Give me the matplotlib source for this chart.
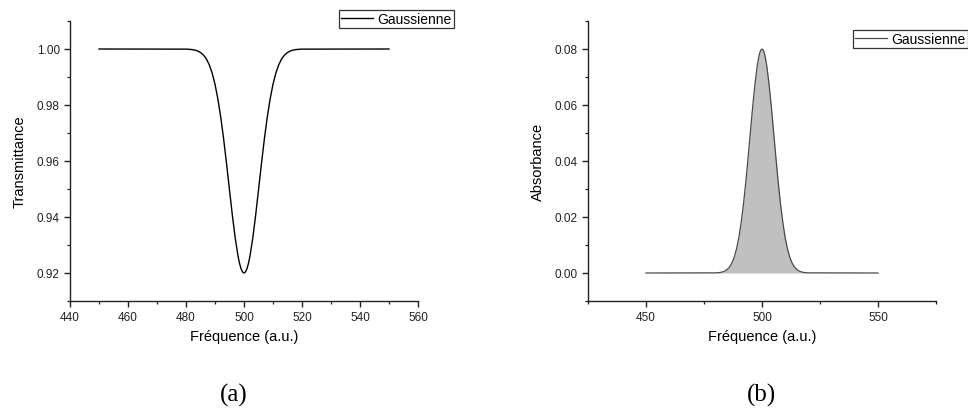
import matplotlib
matplotlib.use("Agg")
import matplotlib.pyplot as plt
from matplotlib.ticker import MultipleLocator, FormatStrFormatter

plt.rcParams['font.family'] = ['Liberation Sans', 'DejaVu Sans']

# Data
freq = [450, 480, 481, 482, 483, 484, 485, 486, 487, 488, 489, 490,
        491, 492, 493, 494, 495, 496, 497, 498, 498.5, 499, 499.5, 500,
        500.5, 501, 501.5, 502, 503, 504, 505, 506, 507, 508, 509, 510,
        511, 512, 513, 514, 515, 516, 517, 518, 519, 520, 550]
transmittance = [1.0, 0.99995, 0.99990, 0.99980, 0.99962, 0.99930, 0.99875, 0.99787,
                 0.99649, 0.99442, 0.99146, 0.98741, 0.98211, 0.97550, 0.96767,
                 0.95889, 0.94962, 0.94049, 0.93227, 0.92570, 0.92326, 0.92146,
                 0.92037, 0.92000,
                 0.92037, 0.92146, 0.92326, 0.92570, 0.93227, 0.94049, 0.94962,
                 0.95889, 0.96767,
                 0.97550, 0.98211, 0.98741, 0.99146, 0.99442, 0.99649, 0.99787,
                 0.99875, 0.99930, 0.99962, 0.99980, 0.99990, 0.99995, 1.0]
absorbance = [0.0, 0.00005, 0.00010, 0.00020, 0.00038, 0.00070, 0.00125, 0.00213,
              0.00351, 0.00558, 0.00854, 0.01259, 0.01789, 0.02450, 0.03233,
              0.04111, 0.05038, 0.05951, 0.06773, 0.07430, 0.07674, 0.07854,
              0.07963, 0.08000,
              0.07963, 0.07854, 0.07674, 0.07430, 0.06773, 0.05951, 0.05038,
              0.04111, 0.03233,
              0.02450, 0.01789, 0.01259, 0.00854, 0.00558, 0.00351, 0.00213,
              0.00125, 0.00070, 0.00038, 0.00020, 0.00010, 0.00005, 0.0]

series_label = "Gaussienne"
xlabel = "Fréquence (a.u.)"

W, H = 968, 414
fig = plt.figure(figsize=(W / 100, H / 100), dpi=100)

def px(x0, y0, x1, y1):
    return [x0 / W, 1 - y1 / H, (x1 - x0) / W, (y1 - y0) / H]

def style(ax):
    for s in ['top', 'right']:
        ax.spines[s].set_visible(False)
    for s in ['left', 'bottom']:
        ax.spines[s].set_linewidth(1.0)
        ax.spines[s].set_color('#222222')
    ax.tick_params(which='major', direction='out', length=4.3, width=1.0,
                   labelsize=8.5, colors='#222222', pad=3)
    ax.tick_params(which='minor', direction='out', length=2.5, width=0.9,
                   colors='#222222')
    ax.xaxis.label.set_size(10.5)
    ax.yaxis.label.set_size(10.5)

# (a) Transmittance
ax1 = fig.add_axes(px(70, 22, 418, 302))
ax1.plot(freq, transmittance, color='black', lw=1.0, label=series_label)
ax1.set_xlim(440, 560)
ax1.set_ylim(0.91, 1.01)
ax1.xaxis.set_major_locator(MultipleLocator(20))
ax1.xaxis.set_minor_locator(MultipleLocator(10))
ax1.yaxis.set_major_locator(MultipleLocator(0.02))
ax1.yaxis.set_minor_locator(MultipleLocator(0.01))
ax1.yaxis.set_major_formatter(FormatStrFormatter('%.2f'))
ax1.set_xlabel(xlabel, labelpad=4)
ax1.set_ylabel("Transmittance", labelpad=7)
style(ax1)
leg1 = ax1.legend(loc='upper left', bbox_to_anchor=(339 / W, 1 - 11 / H),
                  bbox_transform=fig.transFigure, frameon=True, fancybox=False,
                  fontsize=10, handlelength=2.3, handletextpad=0.3,
                  borderpad=0.15, borderaxespad=0)
leg1.get_frame().set_edgecolor('black')
leg1.get_frame().set_linewidth(0.9)

# (b) Absorbance
ax2 = fig.add_axes(px(588, 22, 936, 302))
ax2.fill_between(freq, absorbance, 0, color='#c0c0c0', lw=0)
ax2.plot(freq, absorbance, color='#4a4a4a', lw=0.9, label=series_label)
ax2.set_xlim(425, 575)
ax2.set_ylim(-0.01, 0.09)
ax2.xaxis.set_major_locator(MultipleLocator(50))
ax2.xaxis.set_minor_locator(MultipleLocator(25))
ax2.yaxis.set_major_locator(MultipleLocator(0.02))
ax2.yaxis.set_minor_locator(MultipleLocator(0.01))
ax2.yaxis.set_major_formatter(FormatStrFormatter('%.2f'))
ax2.set_xlabel(xlabel, labelpad=4)
ax2.set_ylabel("Absorbance", labelpad=7)
style(ax2)
leg2 = ax2.legend(loc='upper left', bbox_to_anchor=(853 / W, 1 - 31 / H),
                  bbox_transform=fig.transFigure, frameon=True, fancybox=False,
                  fontsize=10, handlelength=2.3, handletextpad=0.3,
                  borderpad=0.15, borderaxespad=0)
leg2.get_frame().set_edgecolor('black')
leg2.get_frame().set_linewidth(0.9)

# Captions
fig.text(234 / W, 1 - 395 / H, "(a)", ha='center', va='center',
         family=['Liberation Serif', 'DejaVu Serif'], fontsize=18)
fig.text(761 / W, 1 - 395 / H, "(b)", ha='center', va='center',
         family=['Liberation Serif', 'DejaVu Serif'], fontsize=18)

fig.savefig("out.png", dpi=100)
